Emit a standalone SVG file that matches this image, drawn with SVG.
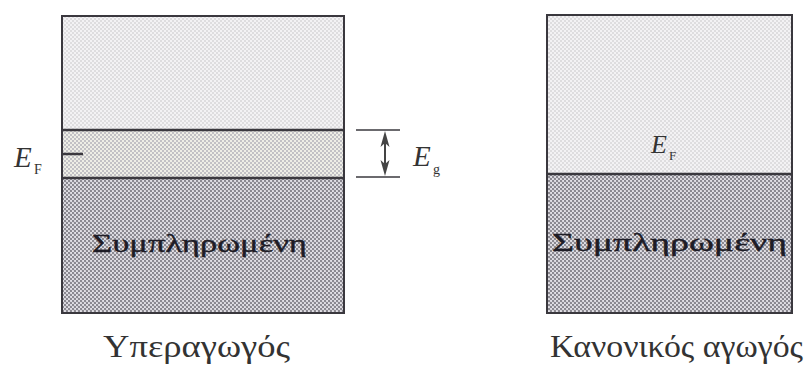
<svg xmlns="http://www.w3.org/2000/svg" width="806" height="367" viewBox="0 0 806 367">
<defs>
<pattern id="pLight" width="4" height="4" patternUnits="userSpaceOnUse">
<rect width="4" height="4" fill="#f3f2f4"/>
<circle cx="1" cy="1" r="0.8" fill="#c4c2c6"/>
<circle cx="3" cy="3" r="0.8" fill="#c4c2c6"/>
</pattern>
<pattern id="pMid" width="4" height="4" patternUnits="userSpaceOnUse">
<rect width="4" height="4" fill="#eeeee6"/>
<circle cx="1" cy="1" r="1" fill="#b4b2ba"/>
<circle cx="3" cy="3" r="1" fill="#b4b2ba"/>
</pattern>
<pattern id="pDark" width="4" height="4" patternUnits="userSpaceOnUse">
<rect width="4" height="4" fill="#e2e0e6"/>
<circle cx="1" cy="1" r="1.2" fill="#88868e"/>
<circle cx="3" cy="3" r="1.2" fill="#88868e"/>
</pattern>
</defs>
<style>
.box{stroke:#3a383e;stroke-width:2;fill:none}
.sep{stroke:#3a383e;stroke-width:2.5}
.lbl{font-family:"Liberation Serif","DejaVu Serif",serif;fill:#333}
.it{font-style:italic}
.fill{font-family:"Liberation Serif","DejaVu Serif",serif;fill:#1e1c26;stroke:#1e1c26;stroke-width:0.4}
.head{fill:#444}
</style>
<rect width="806" height="367" fill="#ffffff"/>
<g id="superconductor">
<rect x="62" y="16" width="282" height="114" fill="url(#pLight)"/>
<rect x="62" y="130" width="282" height="48" fill="url(#pMid)"/>
<rect x="62" y="178" width="282" height="135" fill="url(#pDark)"/>
<rect class="box" x="62" y="16" width="282" height="297"/>
<line class="sep" x1="62" y1="130" x2="344" y2="130"/>
<line class="sep" x1="62" y1="178" x2="344" y2="178"/>
<line x1="63" y1="154" x2="83" y2="154" stroke="#3a383e" stroke-width="2.5"/>
<text class="fill" x="92" y="252" font-size="26" textLength="215" lengthAdjust="spacingAndGlyphs">Συμπληρωμένη</text>
<text class="lbl" x="103" y="357" font-size="32" textLength="187" lengthAdjust="spacingAndGlyphs">Υπεραγωγός</text>
</g>
<g id="ef-left">
<text class="lbl it" x="14" y="167" font-size="29">E</text>
<text class="lbl" x="34" y="174" font-size="14">F</text>
</g>
<g id="gap-label">
<text class="lbl it" x="413" y="166" font-size="29">E</text>
<text class="lbl" x="433" y="174" font-size="14">g</text>
</g>
<g id="normal-conductor">
<rect x="547" y="15" width="245" height="159" fill="url(#pLight)"/>
<rect x="547" y="174" width="245" height="139" fill="url(#pDark)"/>
<rect class="box" x="547" y="15" width="245" height="298"/>
<line class="sep" x1="547" y1="174" x2="792" y2="174"/>
<text class="lbl it" x="651" y="153" font-size="26">E</text>
<text class="lbl" x="669" y="160" font-size="13">F</text>
<text class="fill" x="552" y="251" font-size="26" textLength="235" lengthAdjust="spacingAndGlyphs">Συμπληρωμένη</text>
<text class="lbl" x="550" y="357" font-size="32" textLength="253" lengthAdjust="spacingAndGlyphs">Κανονικός αγωγός</text>
</g>
<g id="connectors">
<line x1="356" y1="130" x2="400" y2="130" stroke="#3a383e" stroke-width="1.5"/>
<line x1="356" y1="177" x2="400" y2="177" stroke="#3a383e" stroke-width="1.5"/>
<line x1="385" y1="140" x2="385" y2="167" stroke="#444" stroke-width="2"/>
<polygon class="head" points="385,131 389.5,147 385,143 380.5,147"/>
<polygon class="head" points="385,176 389.5,160 385,164 380.5,160"/>
</g>
</svg>
